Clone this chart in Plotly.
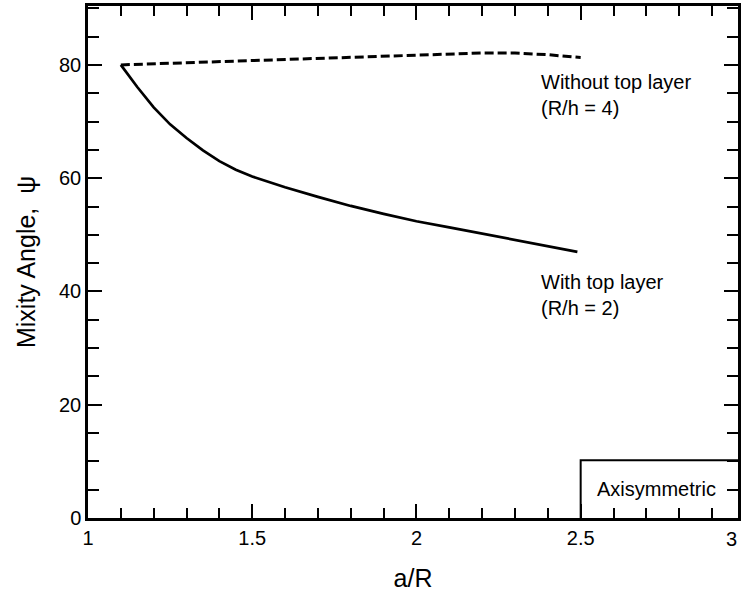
import plotly.graph_objects as go

# Data
x_without = [1.1, 1.2, 1.3, 1.4, 1.5, 1.6, 1.7, 1.8, 1.9, 2.0, 2.1, 2.2, 2.3, 2.4, 2.5]
y_without = [80.0, 80.2, 80.4, 80.6, 80.8, 81.0, 81.2, 81.4, 81.6, 81.8, 82.0, 82.1, 82.1, 81.8, 81.3]

x_with = [1.1, 1.15, 1.2, 1.25, 1.3, 1.35, 1.4, 1.45, 1.5, 1.6, 1.7, 1.8, 1.9, 2.0, 2.1, 2.2, 2.3, 2.4, 2.49]
y_with = [80.0, 76.1, 72.5, 69.5, 67.1, 64.9, 63.0, 61.5, 60.3, 58.4, 56.7, 55.1, 53.7, 52.4, 51.3, 50.2, 49.1, 48.1, 47.0]

x_ticks = [1, 1.5, 2, 2.5]
x_tick_labels = ["1", "1.5", "2", "2.5"]
y_ticks = [0, 20, 40, 60, 80]

FONT = "Liberation Sans, Arial, Helvetica, sans-serif"
X_MIN, X_MAX = 1, 2.979
Y_MAX = 90.4

fig = go.Figure()
fig.add_trace(go.Scatter(x=x_without, y=y_without, mode="lines",
                         line=dict(color="black", width=3, dash="9px,4px"),
                         showlegend=False))
fig.add_trace(go.Scatter(x=x_with, y=y_with, mode="lines",
                         line=dict(color="black", width=2.7),
                         showlegend=False))

axis_common = dict(
    showline=True, linecolor="black", linewidth=2.5, mirror="ticks",
    ticks="inside", ticklen=14, tickwidth=2, tickcolor="black",
    showgrid=False, zeroline=False,
    tickfont=dict(family=FONT, size=20, color="black"),
)

fig.update_xaxes(range=[X_MIN, X_MAX], tickmode="array", tickvals=x_ticks, ticktext=x_tick_labels,
                 minor=dict(dtick=0.1, ticks="inside", ticklen=10, tickwidth=2, tickcolor="black"),
                 title=dict(text="a/R", font=dict(family=FONT, size=25, color="black"), standoff=22),
                 **axis_common)
fig.update_yaxes(range=[0, Y_MAX], tickmode="array", tickvals=y_ticks,
                 minor=dict(dtick=5, ticks="inside", ticklen=11, tickwidth=2, tickcolor="black"),
                 title=dict(text="Mixity Angle,  \u03c8", font=dict(family=FONT, size=25, color="black"), standoff=17),
                 **axis_common)

# "3" tick label at the right edge (kept fully inside the page)
fig.add_annotation(x=1, y=0, xref="paper", yref="paper",
                   xanchor="right", yanchor="top", text="3", showarrow=False, yshift=-8, xshift=1,
                   font=dict(family=FONT, size=20, color="black"))

# Curve labels
ann_font = dict(family=FONT, size=20, color="black")
fig.add_annotation(x=2.374, y=74.6, xref="x", yref="y", xanchor="left", yanchor="middle",
                   text="Without top layer<br>(R/h = 4)", align="left", showarrow=False, font=ann_font)
fig.add_annotation(x=2.374, y=39.3, xref="x", yref="y", xanchor="left", yanchor="middle",
                   text="With top layer<br>(R/h = 2)", align="left", showarrow=False, font=ann_font)

# Axisymmetric box
BOX_X0, BOX_Y1 = 2.5, 10.2
fig.add_shape(type="path", xref="x", yref="y",
              path=f"M {BOX_X0},0 L {BOX_X0},{BOX_Y1} L {X_MAX},{BOX_Y1}",
              line=dict(color="black", width=2))
fig.add_annotation(x=(BOX_X0 + X_MAX) / 2 - 0.01, y=BOX_Y1 / 2, xref="x", yref="y",
                   text="Axisymmetric", showarrow=False, font=ann_font)

fig.update_layout(
    width=743, height=596,
    margin=dict(l=88, r=2, t=6, b=78),
    paper_bgcolor="white", plot_bgcolor="white",
    font=dict(family=FONT, color="black"),
)

fig.write_html("out.html")
